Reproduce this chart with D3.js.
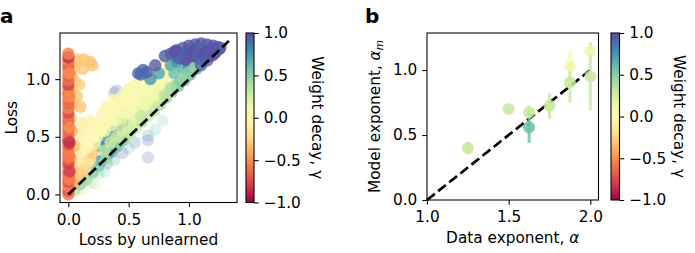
<!DOCTYPE html>
<html>
<head>
<meta charset="utf-8">
<script src="https://cdn.jsdelivr.net/npm/d3@7"></script>
<style>
  body { margin: 0; background: #fff; }
  text { font-family: "DejaVu Sans", sans-serif; fill: #000; }
  .axis text { font-size: 15.3px; }
  .axis path, .axis line { stroke: #000; stroke-width: 1.07; }
</style>
</head>
<body>
<div id="chart"></div>
<script>
// ---------------- panel a data: [loss by unlearned, loss, weight decay] ----------------
const fadedPoints = [
  [0.66, 0.51, 0.7], [0.72, 0.56, 0.6], [0.78, 0.64, 0.5], [0.66, 0.32, 0.9],
  [0.66, 0.47, 0.95], [0.45, 0.36, 1.0], [0.32, 0.27, 0.9], [0.38, 0.30, 0.7],
  [0.25, 0.18, 0.5], [0.18, 0.10, 0.4], [0.12, 0.05, 0.3], [0.30, 0.20, 0.6],
  [0.55, 0.45, 0.9], [0.50, 0.40, 0.6], [0.08, 0.02, 0.2], [0.22, 0.09, 0.35],
  [0.40, 0.90, 0.95], [0.38, 0.88, 0.9]
];
const bandPoints = [
  // blue streak under the band
  [0.26, 0.42, 0.75], [0.30, 0.47, 0.8], [0.35, 0.52, 0.75], [0.40, 0.57, 0.8], [0.45, 0.62, 0.75],
  [0.27, 0.29, 0.75], [0.33, 0.35, 0.8], [0.39, 0.41, 0.75], [0.45, 0.47, 0.7],
  // close to the diagonal
  [0.05, 0.04, 0.35], [0.10, 0.09, 0.45], [0.15, 0.13, 0.4], [0.20, 0.19, 0.5], [0.25, 0.25, 0.55],
  [0.31, 0.31, 0.45], [0.36, 0.37, 0.6], [0.41, 0.42, 0.5], [0.46, 0.48, 0.4], [0.51, 0.53, 0.35],
  [0.56, 0.58, 0.3], [0.61, 0.63, 0.35], [0.66, 0.68, 0.3], [0.71, 0.73, 0.35], [0.76, 0.78, 0.4],
  [0.81, 0.84, 0.45], [0.86, 0.89, 0.5], [0.91, 0.94, 0.55], [0.96, 0.99, 0.6], [1.01, 1.04, 0.6],
  [1.06, 1.09, 0.65], [0.93, 0.98, 0.55],
  // lower left fill
  [0.06, 0.12, -0.35], [0.10, 0.18, -0.3], [0.14, 0.22, -0.25], [0.08, 0.28, -0.2], [0.12, 0.32, -0.1],
  [0.18, 0.30, -0.2], [0.20, 0.36, -0.3], [0.06, 0.38, -0.15], [0.10, 0.44, -0.05], [0.16, 0.45, 0.0],
  [0.22, 0.44, -0.05], [0.08, 0.52, -0.1], [0.14, 0.55, -0.05], [0.20, 0.55, 0.0], [0.12, 0.62, -0.1],
  [0.18, 0.64, -0.05], [0.26, 0.62, 0.0], [0.24, 0.50, 0.05], [0.15, 0.40, 0.0],
  // lime middle
  [0.50, 0.60, 0.25], [0.55, 0.66, 0.2], [0.60, 0.72, 0.25], [0.65, 0.78, 0.2], [0.70, 0.80, 0.25],
  [0.75, 0.85, 0.2], [0.80, 0.92, 0.25], [0.60, 0.68, 0.3], [0.40, 0.50, 0.3], [0.45, 0.55, 0.25],
  [0.35, 0.45, 0.3], [0.30, 0.38, 0.35], [0.57, 0.78, 0.1], [0.62, 0.83, 0.1], [0.68, 0.84, 0.15],
  [0.73, 0.90, 0.15],
  // yellow upper band
  [0.28, 0.70, 0.0], [0.32, 0.76, -0.05], [0.35, 0.68, 0.05], [0.38, 0.82, 0.0], [0.42, 0.75, -0.05],
  [0.45, 0.86, 0.0], [0.48, 0.80, 0.05], [0.50, 0.92, -0.05], [0.52, 0.72, 0.1], [0.55, 0.95, 0.0],
  [0.57, 0.85, 0.05], [0.60, 1.00, -0.05], [0.62, 0.90, 0.0], [0.64, 0.78, 0.1], [0.66, 1.04, 0.0],
  [0.68, 0.95, -0.05], [0.70, 0.86, 0.1], [0.72, 1.00, 0.0], [0.74, 1.10, -0.05], [0.76, 0.93, 0.1],
  [0.78, 1.05, 0.0], [0.80, 1.15, 0.05], [0.82, 0.98, 0.15], [0.85, 1.20, 0.1], [0.30, 0.55, 0.1],
  [0.36, 0.60, 0.1], [0.40, 0.64, 0.05], [0.44, 0.66, 0.15], [0.47, 0.70, 0.1],
  [0.22, 0.60, -0.05], [0.27, 0.55, 0.05], [0.33, 0.64, 0.0], [0.38, 0.70, 0.05], [0.43, 0.80, 0.0],
  [0.50, 0.85, 0.05], [0.53, 0.80, 0.0], [0.58, 0.92, 0.1], [0.63, 0.97, 0.05], [0.67, 0.90, 0.1],
  [0.70, 1.06, 0.0], [0.75, 0.98, 0.05], [0.77, 1.12, 0.0], [0.83, 1.08, 0.1], [0.87, 1.15, 0.15]
];
const highDecayPoints = [
  // teal / blue
  [0.85, 1.12, 0.7], [0.90, 1.15, 0.75], [0.95, 1.10, 0.65], [1.00, 1.15, 0.8], [0.88, 1.05, 0.6],
  [1.05, 1.15, 0.7], [1.10, 1.17, 0.75], [0.75, 1.05, 0.7], [0.68, 1.00, 0.75], [0.95, 1.22, 0.8],
  [1.00, 1.11, 0.85], [1.04, 1.12, 0.75], [1.09, 1.14, 0.85], [1.14, 1.18, 0.8],
  // green next to the diagonal
  [0.90, 0.95, 0.5], [0.95, 1.00, 0.45], [1.00, 1.06, 0.5], [1.05, 1.10, 0.45], [0.85, 0.92, 0.4],
  [0.80, 0.86, 0.35],
  // purple
  [0.85, 1.22, 0.95], [0.90, 1.25, 1.0], [0.95, 1.27, 0.95], [1.00, 1.29, 1.0], [1.05, 1.30, 0.95],
  [1.10, 1.31, 1.0], [1.15, 1.30, 0.95], [1.20, 1.29, 1.0], [1.24, 1.28, 0.95], [1.00, 1.22, 0.95],
  [1.05, 1.25, 1.0], [1.10, 1.26, 0.9], [1.15, 1.24, 1.0], [1.20, 1.25, 0.95], [1.08, 1.18, 0.95],
  [0.97, 1.17, 1.0], [1.12, 1.20, 0.95], [1.18, 1.20, 1.0], [1.22, 1.23, 0.95], [0.80, 1.20, 0.95],
  [0.72, 1.12, 0.95], [0.62, 1.08, 0.9], [0.58, 1.05, 0.95],
  [0.92, 1.18, 1.0], [0.98, 1.20, 0.95], [1.03, 1.20, 1.0], [1.07, 1.22, 0.95], [1.13, 1.22, 1.0],
  [1.17, 1.22, 0.95], [1.22, 1.26, 1.0], [1.26, 1.27, 0.95], [0.90, 1.20, 0.9], [0.88, 1.24, 1.0],
  [0.65, 1.06, 0.95], [0.60, 1.04, 0.9], [1.10, 1.12, 0.9], [1.15, 1.16, 0.95], [1.20, 1.21, 1.0],
  [1.25, 1.26, 0.95]
];
const orangePoints = [
  [0.03, 0.08, -0.4], [0.04, 0.20, -0.3], [0.02, 0.30, -0.35], [0.05, 0.42, -0.3], [0.03, 0.55, -0.35],
  [0.02, 0.66, -0.3], [0.04, 0.78, -0.35], [0.03, 0.90, -0.3], [0.06, 0.97, -0.3], [0.03, 1.02, -0.35],
  [0.05, 1.10, -0.3], [0.08, 1.17, -0.3], [0.13, 1.17, -0.3], [0.18, 1.15, -0.3], [0.20, 1.12, -0.3],
  [0.12, 1.09, -0.3], [0.09, 0.95, -0.25], [0.07, 0.85, -0.3], [0.10, 0.76, -0.3]
];
const columnPoints = [
  [0, 0.00, -0.6], [0, 0.03, -0.7], [0, 0.07, -0.55], [0, 0.11, -0.75], [0, 0.15, -0.6],
  [0, 0.19, -0.65], [0, 0.23, -0.55], [0, 0.27, -0.8], [0, 0.31, -0.6], [0, 0.35, -0.65],
  [0, 0.39, -0.55], [0, 0.43, -0.7], [0, 0.47, -0.85], [0, 0.51, -0.6], [0, 0.55, -0.65],
  [0, 0.59, -0.55], [0, 0.63, -0.7], [0, 0.67, -0.6], [0, 0.71, -0.75], [0, 0.75, -0.55],
  [0, 0.79, -0.65], [0, 0.83, -0.6], [0, 0.87, -0.7], [0, 0.91, -0.55], [0, 0.95, -0.8],
  [0, 0.99, -0.6], [0, 1.03, -0.65], [0, 1.07, -0.55], [0, 1.11, -0.7], [0, 1.15, -0.6],
  [0, 1.19, -0.85], [0, 1.22, -0.55], [0.01, 0.13, -0.55], [0.01, 0.33, -0.55], [0.01, 0.58, -0.5],
  [0.01, 0.85, -0.5], [0.01, 1.05, -0.5], [0.01, 0.20, -0.8], [0.01, 0.45, -0.85]
];

// ---------------- panel b data ----------------
const dataExponent = [1.25, 1.5, 1.625, 1.625, 1.75, 1.875, 1.875, 2.0, 2.0];
const modelExponent = [0.40, 0.70, 0.675, 0.56, 0.725, 1.033, 0.905, 1.146, 0.95];
const modelError = [0.05, 0.01, 0.05, 0.12, 0.10, 0.11, 0.155, 0.07, 0.26];
const pointDecay = [0.3, 0.3, 0.3, 0.6, 0.3, 0.1, 0.3, 0.1, 0.3];

const ticksA = [0, 0.5, 1.0];
const ticksB_x = [1.0, 1.5, 2.0];
const ticksB_y = [0, 0.5, 1.0];
const ticksBar = [-1, -0.5, 0, 0.5, 1];

const width = 695, height = 253;
const fontSize = 15.3;
const fmt = d => d3.format(".1f")(d).replace("-", "\u2212");
const color = g => d3.interpolateSpectral((g + 1) / 2);

let svg = d3.select("#chart").append("svg")
  .attr("width", width).attr("height", height);

//=================================================
// panel a
//=================================================
let boxA = { left: 60, right: 237, top: 33, bottom: 202.5 };
let xA = d3.scaleLinear([-0.069, 1.398], [boxA.left, boxA.right]);
let yA = d3.scaleLinear([-0.07, 1.40], [boxA.bottom, boxA.top]);

svg.append("defs").append("clipPath").attr("id", "clipA")
  .append("rect").attr("x", boxA.left).attr("y", boxA.top)
  .attr("width", boxA.right - boxA.left).attr("height", boxA.bottom - boxA.top);

let plotA = svg.append("g").attr("clip-path", "url(#clipA)");
function addScatter(data, opacity) {
  plotA.append("g").selectAll("circle").data(data).join("circle")
    .attr("cx", d => xA(d[0])).attr("cy", d => yA(d[1])).attr("r", 6.2)
    .attr("fill", d => color(d[2])).attr("fill-opacity", opacity);
}
addScatter(fadedPoints, 0.22);
addScatter(bandPoints, 0.8);
addScatter(highDecayPoints, 0.8);
addScatter(orangePoints, 0.8);
addScatter(columnPoints, 0.8);

svg.append("line")
  .attr("x1", xA(0)).attr("y1", yA(0)).attr("x2", xA(1.33)).attr("y2", yA(1.33))
  .attr("stroke", "#000").attr("stroke-width", 2.7).attr("stroke-dasharray", "9.9,4.3");

svg.append("g").attr("class", "axis")
  .attr("transform", "translate(0," + boxA.bottom + ")")
  .call(d3.axisBottom(xA).tickValues(ticksA).tickFormat(fmt).tickSize(4.7).tickPadding(6.5).tickSizeOuter(0))
  .select(".domain").remove();
svg.append("g").attr("class", "axis")
  .attr("transform", "translate(" + boxA.left + ",0)")
  .call(d3.axisLeft(yA).tickValues(ticksA).tickFormat(fmt).tickSize(4.7).tickPadding(5).tickSizeOuter(0))
  .select(".domain").remove();
svg.append("rect")
  .attr("x", boxA.left).attr("y", boxA.top)
  .attr("width", boxA.right - boxA.left).attr("height", boxA.bottom - boxA.top)
  .attr("fill", "none").attr("stroke", "#000").attr("stroke-width", 1.07);

svg.append("text").attr("x", (boxA.left + boxA.right) / 2).attr("y", 245)
  .attr("text-anchor", "middle").attr("font-size", fontSize).text("Loss by unlearned");
svg.append("text").attr("transform", "translate(17," + (boxA.top + boxA.bottom) / 2 + ") rotate(-90)")
  .attr("text-anchor", "middle").attr("font-size", fontSize).text("Loss");
svg.append("text").attr("x", 0).attr("y", 23)
  .attr("font-size", 20).attr("font-weight", "bold").text("a");

//=================================================
// colorbars
//=================================================
let grad = svg.select("defs").append("linearGradient").attr("id", "spectral")
  .attr("x1", 0).attr("y1", 1).attr("x2", 0).attr("y2", 0);
d3.range(0, 1.0001, 0.05).forEach(t => {
  grad.append("stop").attr("offset", t).attr("stop-color", d3.interpolateSpectral(t));
});

function addColorbar(x0, x1, top, bottom, labelX) {
  let scale = d3.scaleLinear([-1, 1], [bottom, top]);
  svg.append("rect").attr("x", x0).attr("y", top)
    .attr("width", x1 - x0).attr("height", bottom - top)
    .attr("fill", "url(#spectral)").attr("stroke", "#000").attr("stroke-width", 1.07);
  svg.append("g").attr("class", "axis")
    .attr("transform", "translate(" + x1 + ",0)")
    .call(d3.axisRight(scale).tickValues(ticksBar).tickFormat(fmt).tickSize(4.7).tickPadding(5).tickSizeOuter(0))
    .select(".domain").remove();
  svg.append("text")
    .attr("transform", "translate(" + labelX + "," + (top + bottom) / 2 + ") rotate(90)")
    .attr("text-anchor", "middle").attr("font-size", fontSize).text("Weight decay, \u03b3");
}
addColorbar(246, 254, 33, 202.5, 312);

//=================================================
// panel b
//=================================================
let boxB = { left: 427, right: 598.5, top: 33, bottom: 200 };
let xB = d3.scaleLinear([1, 2.05], [boxB.left, boxB.right]);
let yB = d3.scaleLinear([0, 1.285], [boxB.bottom, boxB.top]);

svg.append("line")
  .attr("x1", xB(1)).attr("y1", yB(0)).attr("x2", xB(2)).attr("y2", yB(1))
  .attr("stroke", "#000").attr("stroke-width", 2.7).attr("stroke-dasharray", "9.9,4.3");

let pts = dataExponent.map((d, i) => ({ x: d, y: modelExponent[i], e: modelError[i], g: pointDecay[i] }));
let plotB = svg.append("g");
plotB.selectAll("line").data(pts).join("line")
  .attr("x1", d => xB(d.x)).attr("x2", d => xB(d.x))
  .attr("y1", d => yB(d.y - d.e)).attr("y2", d => yB(d.y + d.e))
  .attr("stroke", d => color(d.g)).attr("stroke-opacity", 0.8).attr("stroke-width", 3);
plotB.selectAll("circle").data(pts).join("circle")
  .attr("cx", d => xB(d.x)).attr("cy", d => yB(d.y)).attr("r", 6)
  .attr("fill", d => color(d.g)).attr("fill-opacity", 0.85);

svg.append("g").attr("class", "axis")
  .attr("transform", "translate(0," + boxB.bottom + ")")
  .call(d3.axisBottom(xB).tickValues(ticksB_x).tickFormat(fmt).tickSize(4.7).tickPadding(6.5).tickSizeOuter(0))
  .select(".domain").remove();
svg.append("g").attr("class", "axis")
  .attr("transform", "translate(" + boxB.left + ",0)")
  .call(d3.axisLeft(yB).tickValues(ticksB_y).tickFormat(fmt).tickSize(4.7).tickPadding(5).tickSizeOuter(0))
  .select(".domain").remove();
svg.append("rect")
  .attr("x", boxB.left).attr("y", boxB.top)
  .attr("width", boxB.right - boxB.left).attr("height", boxB.bottom - boxB.top)
  .attr("fill", "none").attr("stroke", "#000").attr("stroke-width", 1.07);

let xLab = svg.append("text").attr("x", (boxB.left + boxB.right) / 2).attr("y", 243)
  .attr("text-anchor", "middle").attr("font-size", fontSize);
xLab.append("tspan").text("Data exponent, ");
xLab.append("tspan").attr("font-style", "italic").text("\u03b1");

let yLab = svg.append("text")
  .attr("transform", "translate(380," + (boxB.top + boxB.bottom) / 2 + ") rotate(-90)")
  .attr("text-anchor", "middle").attr("font-size", fontSize);
yLab.append("tspan").text("Model exponent, ");
yLab.append("tspan").attr("font-style", "italic").text("\u03b1");
yLab.append("tspan").attr("font-style", "italic").attr("font-size", 10.5).attr("dy", 3).text("m");

svg.append("text").attr("x", 365).attr("y", 23)
  .attr("font-size", 20).attr("font-weight", "bold").text("b");

addColorbar(611, 619.5, 33, 200, 674);
</script>
</body>
</html>
